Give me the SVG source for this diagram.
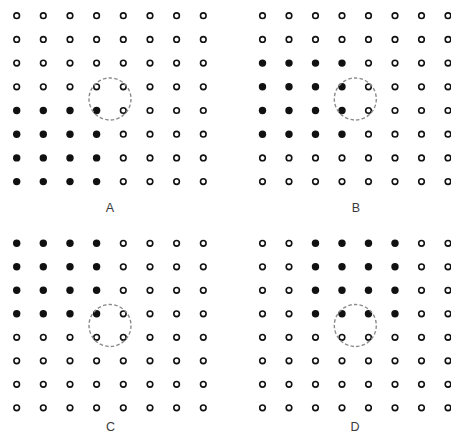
<svg xmlns="http://www.w3.org/2000/svg" xmlns:xlink="http://www.w3.org/1999/xlink" width="451" height="435" viewBox="0 0 451 435">
<style>
.lbl{font-family:"Liberation Sans","DejaVu Sans",sans-serif;font-size:12.5px;fill:#3a3a3a;text-anchor:middle}
.ring{fill:none;stroke:#8a8a8a;stroke-width:1.4;stroke-dasharray:3.5 2.2}
</style>
<defs>
<circle id="o" r="2.8" fill="#fff" stroke="#111" stroke-width="1.6"/>
<circle id="f" r="3.7" fill="#111"/>
</defs>
<rect width="451" height="435" fill="#fff"/>
<g id="panelA">
<use href="#o" x="16.7" y="15.7"/><use href="#o" x="43.3" y="15.7"/><use href="#o" x="70" y="15.7"/><use href="#o" x="96.6" y="15.7"/><use href="#o" x="123.3" y="15.7"/><use href="#o" x="150" y="15.7"/><use href="#o" x="176.6" y="15.7"/><use href="#o" x="203.3" y="15.7"/>
<use href="#o" x="16.7" y="39.4"/><use href="#o" x="43.3" y="39.4"/><use href="#o" x="70" y="39.4"/><use href="#o" x="96.6" y="39.4"/><use href="#o" x="123.3" y="39.4"/><use href="#o" x="150" y="39.4"/><use href="#o" x="176.6" y="39.4"/><use href="#o" x="203.3" y="39.4"/>
<use href="#o" x="16.7" y="63.1"/><use href="#o" x="43.3" y="63.1"/><use href="#o" x="70" y="63.1"/><use href="#o" x="96.6" y="63.1"/><use href="#o" x="123.3" y="63.1"/><use href="#o" x="150" y="63.1"/><use href="#o" x="176.6" y="63.1"/><use href="#o" x="203.3" y="63.1"/>
<use href="#o" x="16.7" y="86.8"/><use href="#o" x="43.3" y="86.8"/><use href="#o" x="70" y="86.8"/><use href="#o" x="96.6" y="86.8"/><use href="#o" x="123.3" y="86.8"/><use href="#o" x="150" y="86.8"/><use href="#o" x="176.6" y="86.8"/><use href="#o" x="203.3" y="86.8"/>
<use href="#f" x="16.7" y="110.5"/><use href="#f" x="43.3" y="110.5"/><use href="#f" x="70" y="110.5"/><use href="#f" x="96.6" y="110.5"/><use href="#o" x="123.3" y="110.5"/><use href="#o" x="150" y="110.5"/><use href="#o" x="176.6" y="110.5"/><use href="#o" x="203.3" y="110.5"/>
<use href="#f" x="16.7" y="134.2"/><use href="#f" x="43.3" y="134.2"/><use href="#f" x="70" y="134.2"/><use href="#f" x="96.6" y="134.2"/><use href="#o" x="123.3" y="134.2"/><use href="#o" x="150" y="134.2"/><use href="#o" x="176.6" y="134.2"/><use href="#o" x="203.3" y="134.2"/>
<use href="#f" x="16.7" y="157.9"/><use href="#f" x="43.3" y="157.9"/><use href="#f" x="70" y="157.9"/><use href="#f" x="96.6" y="157.9"/><use href="#o" x="123.3" y="157.9"/><use href="#o" x="150" y="157.9"/><use href="#o" x="176.6" y="157.9"/><use href="#o" x="203.3" y="157.9"/>
<use href="#f" x="16.7" y="181.6"/><use href="#f" x="43.3" y="181.6"/><use href="#f" x="70" y="181.6"/><use href="#f" x="96.6" y="181.6"/><use href="#o" x="123.3" y="181.6"/><use href="#o" x="150" y="181.6"/><use href="#o" x="176.6" y="181.6"/><use href="#o" x="203.3" y="181.6"/>
<circle class="ring" cx="110" cy="99" r="21"/>
<text class="lbl" x="110" y="212">A</text>
</g>
<g id="panelB">
<use href="#o" x="262.5" y="15.7"/><use href="#o" x="289" y="15.7"/><use href="#o" x="315.5" y="15.7"/><use href="#o" x="342" y="15.7"/><use href="#o" x="368.5" y="15.7"/><use href="#o" x="395" y="15.7"/><use href="#o" x="421.5" y="15.7"/><use href="#o" x="448" y="15.7"/>
<use href="#o" x="262.5" y="39.4"/><use href="#o" x="289" y="39.4"/><use href="#o" x="315.5" y="39.4"/><use href="#o" x="342" y="39.4"/><use href="#o" x="368.5" y="39.4"/><use href="#o" x="395" y="39.4"/><use href="#o" x="421.5" y="39.4"/><use href="#o" x="448" y="39.4"/>
<use href="#f" x="262.5" y="63.1"/><use href="#f" x="289" y="63.1"/><use href="#f" x="315.5" y="63.1"/><use href="#f" x="342" y="63.1"/><use href="#o" x="368.5" y="63.1"/><use href="#o" x="395" y="63.1"/><use href="#o" x="421.5" y="63.1"/><use href="#o" x="448" y="63.1"/>
<use href="#f" x="262.5" y="86.8"/><use href="#f" x="289" y="86.8"/><use href="#f" x="315.5" y="86.8"/><use href="#f" x="342" y="86.8"/><use href="#o" x="368.5" y="86.8"/><use href="#o" x="395" y="86.8"/><use href="#o" x="421.5" y="86.8"/><use href="#o" x="448" y="86.8"/>
<use href="#f" x="262.5" y="110.5"/><use href="#f" x="289" y="110.5"/><use href="#f" x="315.5" y="110.5"/><use href="#f" x="342" y="110.5"/><use href="#o" x="368.5" y="110.5"/><use href="#o" x="395" y="110.5"/><use href="#o" x="421.5" y="110.5"/><use href="#o" x="448" y="110.5"/>
<use href="#f" x="262.5" y="134.2"/><use href="#f" x="289" y="134.2"/><use href="#f" x="315.5" y="134.2"/><use href="#f" x="342" y="134.2"/><use href="#o" x="368.5" y="134.2"/><use href="#o" x="395" y="134.2"/><use href="#o" x="421.5" y="134.2"/><use href="#o" x="448" y="134.2"/>
<use href="#o" x="262.5" y="157.9"/><use href="#o" x="289" y="157.9"/><use href="#o" x="315.5" y="157.9"/><use href="#o" x="342" y="157.9"/><use href="#o" x="368.5" y="157.9"/><use href="#o" x="395" y="157.9"/><use href="#o" x="421.5" y="157.9"/><use href="#o" x="448" y="157.9"/>
<use href="#o" x="262.5" y="181.6"/><use href="#o" x="289" y="181.6"/><use href="#o" x="315.5" y="181.6"/><use href="#o" x="342" y="181.6"/><use href="#o" x="368.5" y="181.6"/><use href="#o" x="395" y="181.6"/><use href="#o" x="421.5" y="181.6"/><use href="#o" x="448" y="181.6"/>
<circle class="ring" cx="355.3" cy="99" r="21"/>
<text class="lbl" x="356" y="212">B</text>
</g>
<g id="panelC">
<use href="#f" x="16.7" y="243.3"/><use href="#f" x="43.3" y="243.3"/><use href="#f" x="70" y="243.3"/><use href="#f" x="96.6" y="243.3"/><use href="#o" x="123.3" y="243.3"/><use href="#o" x="150" y="243.3"/><use href="#o" x="176.6" y="243.3"/><use href="#o" x="203.3" y="243.3"/>
<use href="#f" x="16.7" y="266.8"/><use href="#f" x="43.3" y="266.8"/><use href="#f" x="70" y="266.8"/><use href="#f" x="96.6" y="266.8"/><use href="#o" x="123.3" y="266.8"/><use href="#o" x="150" y="266.8"/><use href="#o" x="176.6" y="266.8"/><use href="#o" x="203.3" y="266.8"/>
<use href="#f" x="16.7" y="290.3"/><use href="#f" x="43.3" y="290.3"/><use href="#f" x="70" y="290.3"/><use href="#f" x="96.6" y="290.3"/><use href="#o" x="123.3" y="290.3"/><use href="#o" x="150" y="290.3"/><use href="#o" x="176.6" y="290.3"/><use href="#o" x="203.3" y="290.3"/>
<use href="#f" x="16.7" y="313.8"/><use href="#f" x="43.3" y="313.8"/><use href="#f" x="70" y="313.8"/><use href="#f" x="96.6" y="313.8"/><use href="#o" x="123.3" y="313.8"/><use href="#o" x="150" y="313.8"/><use href="#o" x="176.6" y="313.8"/><use href="#o" x="203.3" y="313.8"/>
<use href="#o" x="16.7" y="337.3"/><use href="#o" x="43.3" y="337.3"/><use href="#o" x="70" y="337.3"/><use href="#o" x="96.6" y="337.3"/><use href="#o" x="123.3" y="337.3"/><use href="#o" x="150" y="337.3"/><use href="#o" x="176.6" y="337.3"/><use href="#o" x="203.3" y="337.3"/>
<use href="#o" x="16.7" y="360.8"/><use href="#o" x="43.3" y="360.8"/><use href="#o" x="70" y="360.8"/><use href="#o" x="96.6" y="360.8"/><use href="#o" x="123.3" y="360.8"/><use href="#o" x="150" y="360.8"/><use href="#o" x="176.6" y="360.8"/><use href="#o" x="203.3" y="360.8"/>
<use href="#o" x="16.7" y="384.3"/><use href="#o" x="43.3" y="384.3"/><use href="#o" x="70" y="384.3"/><use href="#o" x="96.6" y="384.3"/><use href="#o" x="123.3" y="384.3"/><use href="#o" x="150" y="384.3"/><use href="#o" x="176.6" y="384.3"/><use href="#o" x="203.3" y="384.3"/>
<use href="#o" x="16.7" y="407.8"/><use href="#o" x="43.3" y="407.8"/><use href="#o" x="70" y="407.8"/><use href="#o" x="96.6" y="407.8"/><use href="#o" x="123.3" y="407.8"/><use href="#o" x="150" y="407.8"/><use href="#o" x="176.6" y="407.8"/><use href="#o" x="203.3" y="407.8"/>
<circle class="ring" cx="110" cy="325.5" r="21"/>
<text class="lbl" x="110.5" y="430.5">C</text>
</g>
<g id="panelD">
<use href="#o" x="262.5" y="243.3"/><use href="#o" x="289" y="243.3"/><use href="#f" x="315.5" y="243.3"/><use href="#f" x="342" y="243.3"/><use href="#f" x="368.5" y="243.3"/><use href="#f" x="395" y="243.3"/><use href="#o" x="421.5" y="243.3"/><use href="#o" x="448" y="243.3"/>
<use href="#o" x="262.5" y="266.8"/><use href="#o" x="289" y="266.8"/><use href="#f" x="315.5" y="266.8"/><use href="#f" x="342" y="266.8"/><use href="#f" x="368.5" y="266.8"/><use href="#f" x="395" y="266.8"/><use href="#o" x="421.5" y="266.8"/><use href="#o" x="448" y="266.8"/>
<use href="#o" x="262.5" y="290.3"/><use href="#o" x="289" y="290.3"/><use href="#f" x="315.5" y="290.3"/><use href="#f" x="342" y="290.3"/><use href="#f" x="368.5" y="290.3"/><use href="#f" x="395" y="290.3"/><use href="#o" x="421.5" y="290.3"/><use href="#o" x="448" y="290.3"/>
<use href="#o" x="262.5" y="313.8"/><use href="#o" x="289" y="313.8"/><use href="#f" x="315.5" y="313.8"/><use href="#f" x="342" y="313.8"/><use href="#f" x="368.5" y="313.8"/><use href="#f" x="395" y="313.8"/><use href="#o" x="421.5" y="313.8"/><use href="#o" x="448" y="313.8"/>
<use href="#o" x="262.5" y="337.3"/><use href="#o" x="289" y="337.3"/><use href="#o" x="315.5" y="337.3"/><use href="#o" x="342" y="337.3"/><use href="#o" x="368.5" y="337.3"/><use href="#o" x="395" y="337.3"/><use href="#o" x="421.5" y="337.3"/><use href="#o" x="448" y="337.3"/>
<use href="#o" x="262.5" y="360.8"/><use href="#o" x="289" y="360.8"/><use href="#o" x="315.5" y="360.8"/><use href="#o" x="342" y="360.8"/><use href="#o" x="368.5" y="360.8"/><use href="#o" x="395" y="360.8"/><use href="#o" x="421.5" y="360.8"/><use href="#o" x="448" y="360.8"/>
<use href="#o" x="262.5" y="384.3"/><use href="#o" x="289" y="384.3"/><use href="#o" x="315.5" y="384.3"/><use href="#o" x="342" y="384.3"/><use href="#o" x="368.5" y="384.3"/><use href="#o" x="395" y="384.3"/><use href="#o" x="421.5" y="384.3"/><use href="#o" x="448" y="384.3"/>
<use href="#o" x="262.5" y="407.8"/><use href="#o" x="289" y="407.8"/><use href="#o" x="315.5" y="407.8"/><use href="#o" x="342" y="407.8"/><use href="#o" x="368.5" y="407.8"/><use href="#o" x="395" y="407.8"/><use href="#o" x="421.5" y="407.8"/><use href="#o" x="448" y="407.8"/>
<circle class="ring" cx="355.3" cy="325.5" r="21"/>
<text class="lbl" x="355" y="430.5">D</text>
</g>
<g id="connectors"/>
</svg>
